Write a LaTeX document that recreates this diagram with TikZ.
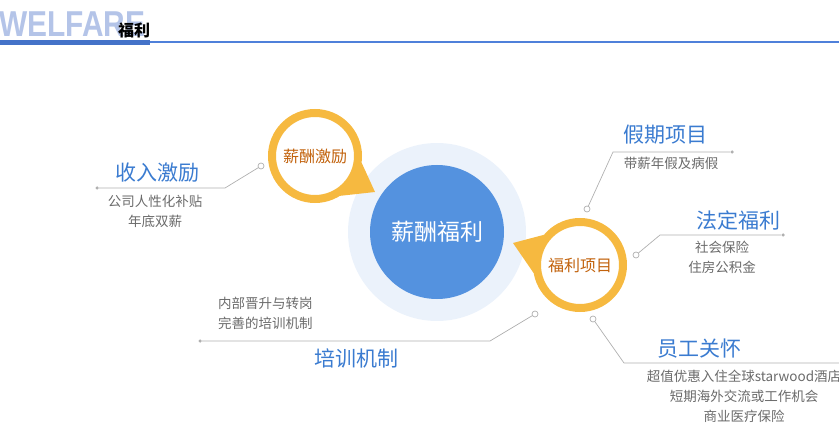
\documentclass[tikz,border=0pt]{standalone}
\usepackage{fontspec}
\setmainfont{Liberation Sans}
\newfontfamily\cjk{Noto Sans CJK SC}
\usetikzlibrary{positioning}
\definecolor{ghostblue}{HTML}{B4C4E8}
\definecolor{barblue}{HTML}{4472C8}
\definecolor{ruleblue}{HTML}{4F80DA}
\definecolor{haloblue}{HTML}{EBF2FB}
\definecolor{coreblue}{HTML}{5492DF}
\definecolor{ringorange}{HTML}{F6B940}
\definecolor{bubbletext}{HTML}{C2620C}
\definecolor{headblue}{HTML}{3A7BD0}
\definecolor{subgrey}{HTML}{6A6A6A}
\definecolor{linegrey}{HTML}{B0B0B0}

\begin{document}
\begin{tikzpicture}[x=1pt, y=-1pt,
  bubble/.style={circle, draw=ringorange, line width=8pt, fill=white,
    minimum size=86pt, inner sep=0pt, text=bubbletext,
    font=\cjk\fontsize{16}{16}\selectfont},
  head/.style={inner sep=0pt, text=headblue, font=\cjk\fontsize{21}{21}\selectfont},
  sub/.style={inner sep=0pt, text=subgrey, align=center,
    font=\cjk\fontsize{13.5}{20}\selectfont},
  leader/.style={draw=linegrey, line width=0.7pt},
  endring/.style={circle, draw=linegrey, fill=white, line width=0.7pt,
    minimum size=6pt, inner sep=0pt},
  enddot/.style={circle, fill=linegrey, minimum size=3.5pt, inner sep=0pt}]
  \useasboundingbox (0,0) rectangle (839,433);

  % header
  \node[anchor=base west, inner sep=0pt, text=ghostblue] (ghost) at (-1,37)
    {\bfseries\fontsize{36}{36}\selectfont\scalebox{0.83}[1]{WELFARE}};
  \fill[barblue] (0,40) rectangle (150,45.5);
  \draw[ruleblue, line width=1.2pt] (150,42) -- (839,42);
  \node[inner sep=0pt, font=\cjk\bfseries\fontsize{16}{16}\selectfont] (title) at (134,30) {福利};

  % centre
  \fill[haloblue] (437,232) circle (89);
  \fill[coreblue] (437,232) circle (67);
  \node[text=white, font=\cjk\fontsize{23}{23}\selectfont] (core) at (437,232) {薪酬福利};

  % speech bubbles
  \node[bubble] (pay) at (315,156) {薪酬激励};
  \fill[ringorange] (pay.-8) -- (375,192) -- (pay.-58) -- cycle;
  \node[bubble] (perk) at (580,265) {福利项目};
  \fill[ringorange] (perk.140) -- (513,243) -- (perk.190) -- cycle;

  % 收入激励
  \node[head] (incomeh) at (157,173) {收入激励};
  \node[sub] (incomes) at (155,211) {公司人性化补贴\\年底双薪};
  \node[enddot] (incomed) at (97,188) {};
  \coordinate (incomeb) at (225,188);
  \node[endring] (incomer) at (261,166) {};
  \draw[leader] (incomed) -- (incomeb) -- (incomer);

  % 假期项目
  \node[head] (leaveh) at (665,135) {假期项目};
  \node[sub] (leaves) at (671,163) {带薪年假及病假};
  \node[enddot] (leaved) at (732,152) {};
  \coordinate (leaveb) at (613,152);
  \node[endring] (leaver) at (587,209) {};
  \draw[leader] (leaved) -- (leaveb) -- (leaver);

  % 法定福利
  \node[head] (lawh) at (738,220) {法定福利};
  \node[sub] (laws) at (722,257) {社会保险\\住房公积金};
  \node[enddot] (lawd) at (783,235) {};
  \coordinate (lawb) at (660,235);
  \node[endring] (lawr) at (636,255) {};
  \draw[leader] (lawd) -- (lawb) -- (lawr);

  % 员工关怀
  \node[head] (careh) at (699,349) {员工关怀};
  \node[sub] (cares) at (744,396) {超值优惠入住全球starwood酒店\\短期海外交流或工作机会\\商业医疗保险};
  \node[endring] (carer) at (593,319) {};
  \coordinate (careb) at (624,363);
  \coordinate (caree) at (839,363);
  \draw[leader] (carer) -- (careb) -- (caree);

  % 培训机制
  \node[head] (trainh) at (356,358) {培训机制};
  \node[sub, anchor=west, align=left] (trains) at (218,313) {内部晋升与转岗\\完善的培训机制};
  \node[enddot] (traind) at (200,341) {};
  \coordinate (trainb) at (490,341);
  \node[endring] (trainr) at (535,314) {};
  \draw[leader] (traind) -- (trainb) -- (trainr);
\end{tikzpicture}
\end{document}
